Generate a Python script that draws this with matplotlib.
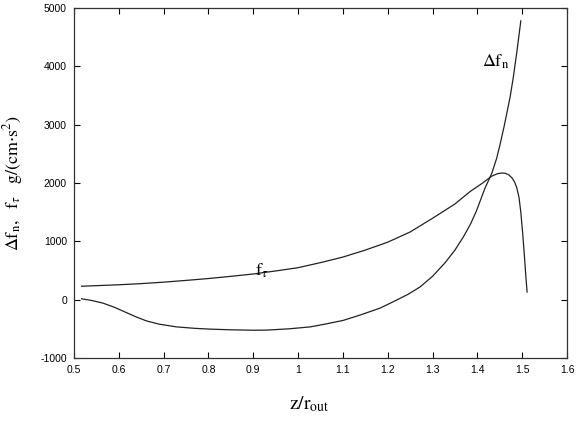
import matplotlib
matplotlib.use("Agg")
import matplotlib.pyplot as plt

plt.rcParams["mathtext.fontset"] = "stix"
plt.rcParams["axes.unicode_minus"] = False

# f_tau curve (upper one, peaks near 1.45)
x_ft = [0.517, 0.55, 0.6, 0.65, 0.7, 0.75, 0.8, 0.85, 0.9, 0.95, 1.0,
        1.05, 1.1, 1.15, 1.2, 1.25, 1.3, 1.35, 1.384, 1.41, 1.432, 1.445,
        1.455, 1.463, 1.47, 1.477, 1.483, 1.488, 1.493, 1.497, 1.501,
        1.505, 1.508, 1.511]
f_tau = [230, 240, 255, 275, 300, 330, 362, 400, 440, 492, 548,
         635, 730, 850, 985, 1160, 1395, 1640, 1855, 1990, 2117, 2160,
         2172, 2165, 2140, 2090, 2020, 1920, 1750, 1500, 1150,
         750, 420, 130]

# delta f_n curve (dips below zero then shoots up)
x_dfn = [0.517, 0.54, 0.565, 0.59, 0.618, 0.64, 0.662, 0.69, 0.729, 0.77,
         0.803, 0.85, 0.9, 0.93, 0.98, 1.027, 1.06, 1.101, 1.14, 1.183,
         1.216, 1.245, 1.272, 1.3, 1.328, 1.35, 1.369, 1.385, 1.398, 1.417,
         1.432, 1.443, 1.45, 1.46, 1.473, 1.48, 1.488, 1.497]
delta_fn = [15, -15, -60, -130, -225, -300, -365, -420, -467, -492,
            -505, -517, -524, -522, -500, -467, -420, -355, -260, -145,
            -22, 90, 217, 400, 633, 850, 1078, 1300, 1522, 1911,
            2161, 2420, 2640, 2980, 3470, 3800, 4240, 4780]

xticks = [0.5, 0.6, 0.7, 0.8, 0.9, 1, 1.1, 1.2, 1.3, 1.4, 1.5, 1.6]
xtick_labels = ["0.5", "0.6", "0.7", "0.8", "0.9", "1", "1.1", "1.2", "1.3", "1.4", "1.5", "1.6"]
yticks = [-1000, 0, 1000, 2000, 3000, 4000, 5000]

fig = plt.figure(figsize=(5.82, 4.22), dpi=100)
ax = fig.add_axes([0.1271, 0.1517, 0.8471, 0.8293])

ax.plot(x_ft, f_tau, color="#222222", lw=0.9)
ax.plot(x_dfn, delta_fn, color="#222222", lw=0.9)

ax.set_xlim(0.5, 1.6)
ax.set_ylim(-1000, 5000)
ax.set_xticks(xticks)
ax.set_xticklabels(xtick_labels)
ax.set_yticks(yticks)
ax.tick_params(direction="in", top=True, right=True, length=4, width=0.8,
               labelsize=7.5, pad=5)
for lab in ax.get_xticklabels() + ax.get_yticklabels():
    lab.set_family("Liberation Sans")
for s in ax.spines.values():
    s.set_linewidth(0.9)
    s.set_color("#333333")

ax.text(1.41, 4000, r"$\Delta\mathrm{f}_{\mathrm{n}}$", fontsize=13)
ax.text(0.905, 420, r"$\mathrm{f}_{\tau}$", fontsize=13)

ax.set_xlabel(r"$\mathrm{z/r}_{\mathrm{out}}$", fontsize=14)
ax.xaxis.set_label_coords(0.478, -0.105)
ax.set_ylabel(r"$\Delta\mathrm{f}_{\mathrm{n}},\ \ \mathrm{f}_{\tau}\ \ \ \mathrm{g/(cm{\cdot}s^2)}$",
              fontsize=13)
ax.yaxis.set_label_coords(-0.1, 0.5)

fig.savefig("out.png", dpi=100)
